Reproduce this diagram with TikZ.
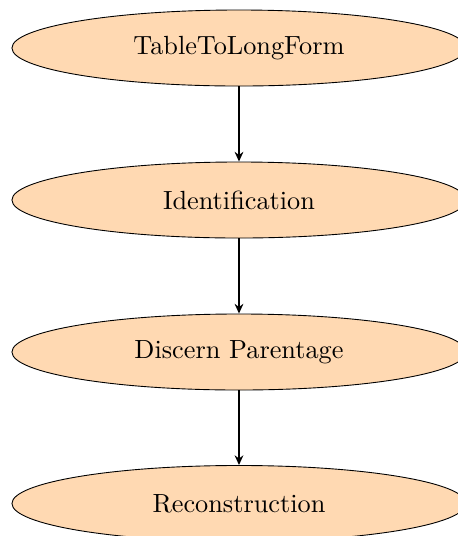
\documentclass[tikz,border=0pt]{standalone}
\usetikzlibrary{shapes.geometric,arrows.meta}
\begin{document}
\begin{tikzpicture}[x=0.392pt,y=-0.392pt,
  stage/.style={ellipse,draw=black,fill=orange!30,line width=0.35pt,
    minimum width=178pt,minimum height=29.8pt,inner sep=0pt,
    font=\fontsize{10.3}{12}\selectfont},
  flow/.style={-{Stealth[length=3.8pt,width=3.4pt]},line width=0.75pt}]
\useasboundingbox (0,0) rectangle (458,536);
\begin{scope}
\clip (0,0) rectangle (458,536);
\node[stage] (a) at (239,48) {TableToLongForm};
\node[stage] (b) at (239,200) {Identification};
\node[stage] (c) at (239,352) {Discern Parentage};
\node[stage] (d) at (239,503.5) {Reconstruction};
\draw[flow] (a) -- (b);
\draw[flow] (b) -- (c);
\draw[flow] (c) -- (d);
\end{scope}
\end{tikzpicture}
\end{document}
